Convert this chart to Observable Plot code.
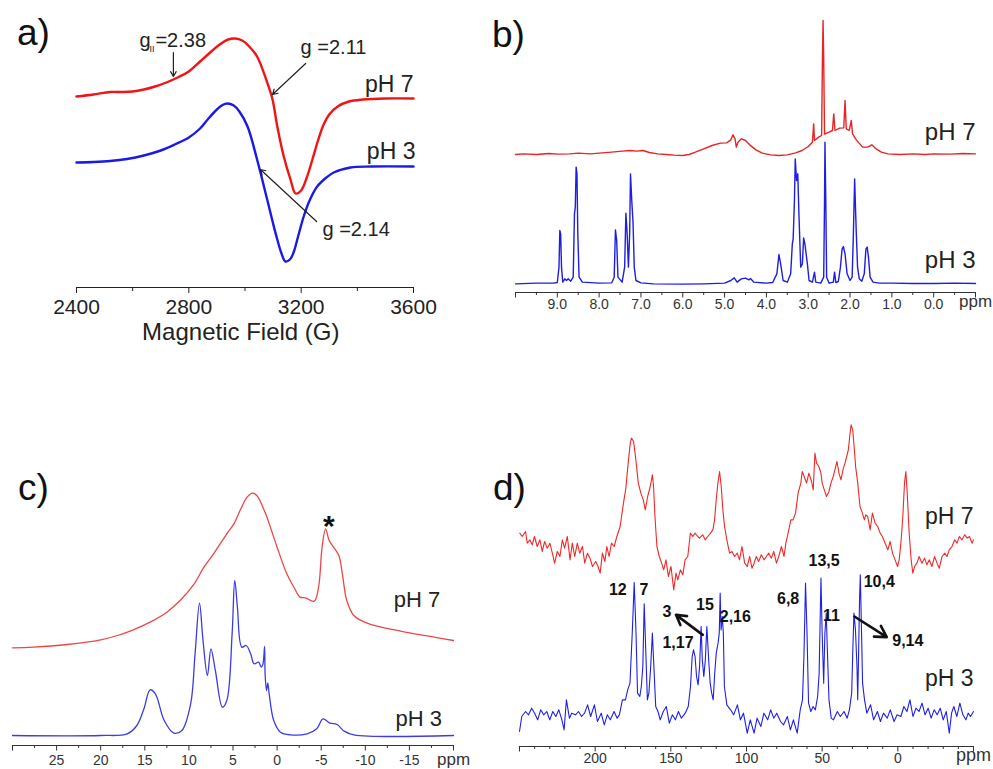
<!DOCTYPE html>
<html><head><meta charset="utf-8">
<script src="https://cdn.jsdelivr.net/npm/d3@7"></script>
<script src="https://cdn.jsdelivr.net/npm/@observablehq/plot@0.6"></script>
<style>
body{margin:0;background:#fff;}
#page{position:relative;width:993px;height:769px;overflow:hidden;font-family:"Liberation Sans",Arial,Helvetica,sans-serif;background:#fff;}
.panel{position:absolute;}
.panel svg{overflow:visible;max-width:none;background:transparent;display:block;}
.tag{position:absolute;font-size:37px;line-height:37px;color:#111;font-family:"Liberation Sans",Arial,sans-serif;}
</style></head><body><div id="page"></div>
<script>
// ---------- Panel a: EPR (field in G, intensity a.u. with offset) ----------
const eprPH7 = [[2400,191],[2460,193],[2520,195.5],[2560,195.5],[2600,196],[2640,198],[2680,201],[2720,205],[2760,210],[2800,216],[2840,226],[2880,236],[2910,243],[2940,248],[2965,249],[2990,247],[3015,241],[3043,231],[3079,205],[3098,188],[3115,161],[3138,131],[3162,108],[3180,94],[3200,97],[3220,110],[3240,128],[3260,147],[3280,163],[3300,173],[3330,181],[3370,186],[3420,188],[3500,189],[3600,189]];
const eprPH3 = [[2400,125],[2460,125.5],[2520,126.5],[2580,128.5],[2640,132],[2700,137],[2750,143],[2800,150],[2840,159],[2870,169],[2900,178],[2920,182.5],[2937,184],[2960,182],[2980,176],[3009,161],[3043,128],[3079,88],[3100,64],[3115,48],[3130,34],[3144,26],[3160,28],[3173,35],[3190,52],[3209,71],[3230,87],[3257,101],[3290,110],[3316,115],[3376,120],[3450,121],[3600,121]];
const aMajor = [2400, 2800, 3200, 3600];
const aMinor = [2600, 3000, 3400];
const aText = [
  {x: 2624, y: 247, t: "g", s: 20, a: "start"},
  {x: 2660, y: 238, t: "II", s: 9, a: "start"},
  {x: 2681, y: 247, t: "=2.38", s: 20, a: "start"},
  {x: 3198, y: 240, t: "g =2.11", s: 20, a: "start"},
  {x: 3276, y: 58, t: "g =2.14", s: 20, a: "start"},
  {x: 3600, y: 203, t: "pH 7", s: 23, a: "end"},
  {x: 3607, y: 136, t: "pH 3", s: 23, a: "end"},
  {x: 2985, y: -45, t: "Magnetic Field (G)", s: 24, a: "middle"}
];
const aArrows = [
  {x1: 2745, y1: 235, x2: 2745, y2: 211},
  {x1: 3216, y1: 224, x2: 3098, y2: 193},
  {x1: 3255, y1: 66, x2: 3055, y2: 118}
];

// ---------- Panel b: 1H NMR (ppm) ----------
const hPH7 = [[10,414],[9.8,416],[9.5,414],[9.2,417],[9.0,415],[8.7,416],[8.5,418],[8.2,416],[8.0,418],[7.7,421],[7.45,424],[7.25,426],[7.1,424],[6.95,426],[6.8,420],[6.6,416],[6.4,414],[6.2,412],[6.0,411],[5.85,414],[5.7,421],[5.5,431],[5.3,441],[5.1,448],[4.95,449],[4.85,458],[4.80,473],[4.75,461],[4.72,436],[4.68,451],[4.6,461],[4.5,456],[4.4,443],[4.25,428],[4.1,418],[3.9,413],[3.7,411],[3.5,413],[3.3,419],[3.15,426],[3.0,438],[2.9,451],[2.87,506],[2.85,456],[2.75,466],[2.68,471],[2.66,700],[2.645,816],[2.63,700],[2.61,475],[2.5,481],[2.42,486],[2.39,536],[2.36,486],[2.25,493],[2.15,494],[2.12,576],[2.09,491],[2.02,486],[1.97,516],[1.94,476],[1.85,458],[1.7,436],[1.58,436],[1.48,443],[1.38,431],[1.25,421],[1.1,416],[0.8,414],[0.5,416],[0.2,414],[0.0,416],[-0.4,415],[-0.7,417],[-1.0,416]];
const hPH3 = [[10,26],[9.5,28],[9.1,28],[9.0,30],[8.96,76],[8.94,186],[8.92,176],[8.90,76],[8.87,31],[8.82,41],[8.78,36],[8.74,41],[8.68,34],[8.62,46],[8.59,236],[8.57,256],[8.55,376],[8.53,356],[8.51,176],[8.48,46],[8.4,31],[8.0,28],[7.7,29],[7.64,46],[7.61,188],[7.58,156],[7.55,46],[7.45,31],[7.39,76],[7.36,238],[7.33,176],[7.30,76],[7.27,176],[7.25,356],[7.22,276],[7.19,211],[7.16,76],[7.12,36],[7.0,29],[6.7,26],[6.0,25],[5.5,26],[5.0,28],[4.85,36],[4.77,44],[4.70,31],[4.6,41],[4.5,43],[4.42,38],[4.38,42],[4.3,31],[4.0,28],[3.85,30],[3.75,56],[3.70,114],[3.66,86],[3.60,36],[3.50,31],[3.42,56],[3.38,146],[3.36,161],[3.33,276],[3.31,401],[3.28,336],[3.25,356],[3.22,226],[3.18,76],[3.14,86],[3.11,164],[3.08,146],[3.05,116],[3.02,86],[2.98,36],[2.9,31],[2.85,61],[2.82,31],[2.7,28],[2.63,46],[2.61,276],[2.60,451],[2.58,276],[2.56,46],[2.5,28],[2.4,31],[2.37,61],[2.34,30],[2.28,33],[2.23,76],[2.19,131],[2.16,138],[2.12,116],[2.07,56],[2.0,36],[1.95,46],[1.92,176],[1.89,341],[1.87,256],[1.85,176],[1.82,76],[1.78,41],[1.72,34],[1.66,56],[1.62,131],[1.59,136],[1.56,106],[1.52,46],[1.45,31],[1.3,28],[1.0,28],[0.5,27],[0.0,27],[-0.5,28],[-1.0,27]];
const bMajor = [10,9,8,7,6,5,4,3,2,1,0,-1];
const bMinor = [9.5,8.5,7.5,6.5,5.5,4.5,3.5,2.5,1.5,0.5,-0.5];
const bText = [
  {x: -1, y: 481, t: "pH 7"},
  {x: -1, y: 96, t: "pH 3"}
];

// ---------- Panel c: solid-state 1H NMR (ppm) ----------
const ssH7 = [[30,293],[27.6,295],[23.8,303],[20,317],[18.1,330],[16.3,347],[14.4,370],[12.5,400],[11,435],[9.4,485],[8.3,535],[7.2,575],[5.7,635],[4.9,665],[4.2,705],[3.4,745],[2.8,757],[2.3,750],[1.3,695],[0.76,655],[0,595],[-1.1,515],[-1.9,475],[-2.6,445],[-3.2,443],[-4.2,433],[-4.7,475],[-5.1,595],[-5.5,650],[-5.9,615],[-6.4,595],[-7.0,570],[-7.4,515],[-7.9,435],[-8.7,390],[-10.2,367],[-14,343],[-17.8,325],[-20,315]];
const ssH3 = [[30,30],[20,30],[17,35],[15.9,60],[15.1,110],[14.4,167],[13.8,155],[12.8,75],[11.7,37],[10.8,45],[9.8,125],[9.3,275],[8.8,427],[8.4,315],[7.9,210],[7.5,290],[7.0,225],[6.2,115],[5.7,135],[5.1,335],[4.8,495],[4.5,415],[4.0,295],[3.5,300],[3.0,275],[2.6,245],[2.1,250],[1.8,235],[1.6,245],[1.42,297],[1.36,215],[1.2,165],[1.06,187],[0.9,155],[0.38,75],[-0.38,40],[-1.5,32],[-3.4,35],[-4.5,50],[-5.2,80],[-6.0,67],[-6.8,63],[-7.6,43],[-8.7,32],[-20,30]];
const cMajor = [30,25,20,15,10,5,0,-5,-10,-15,-20];
const cMinor = [27.5,22.5,17.5,12.5,7.5,2.5,-2.5,-7.5,-12.5,-17.5];
const cText = [
  {x: -18.5, y: 437, t: "pH 7"},
  {x: -18.7, y: 80, t: "pH 3"}
];

// ---------- Panel d: 13C NMR (ppm) ----------
const cPH7 = [[249.8,640],[248.2,630],[246,645],[244.9,610],[243.1,620],[241.6,605],[240.1,630],[238.3,600],[236.5,620],[235,585],[233.4,615],[231.7,595],[229.9,610],[228.3,580],[226.8,550],[225,585],[223.3,570],[221.7,620],[220.2,595],[218.4,630],[216.6,560],[215.1,610],[213.5,570],[211.8,610],[210.2,580],[208.4,600],[206.9,550],[205.1,580],[203.4,565],[201.8,540],[199.6,555],[198.1,540],[196.7,520],[195.2,580],[193.6,555],[192.3,600],[190.8,570],[189.2,610],[187.4,600],[185.7,630],[183.5,660],[181.3,730],[179.7,775],[178.2,850],[176.8,910],[176,925],[174.6,915],[173.1,860],[171.5,790],[169.8,760],[168.2,740],[166.9,710],[165.3,750],[163.6,780],[162.2,815],[161.4,780],[160.5,690],[159.2,600],[157.6,570],[156.1,550],[154.7,530],[153.2,560],[151.6,510],[149.9,540],[148.1,470],[146.6,520],[145.4,500],[143.7,530],[142.1,515],[140.6,560],[138.8,570],[137.1,640],[135.5,630],[134,640],[132.2,630],[131.1,625],[128.9,635],[127.3,620],[125.6,630],[123.8,640],[122.2,650],[121.1,680],[120,740],[118.9,790],[117.8,825],[116.7,780],[115.6,710],[114.5,660],[113,620],[111.2,580],[109.6,585],[107.9,570],[106.1,580],[104.6,560],[103,600],[101.2,550],[99.5,540],[97.9,570],[96.4,535],[95,550],[93.5,570],[92,555],[90.2,575],[88.4,560],[86.9,570],[85.3,580],[83.6,565],[82,585],[80.2,550],[78.7,570],[76.9,600],[75.2,570],[74,610],[72.5,640],[70.7,680],[69.2,680],[67.6,700],[65.9,760],[64.1,790],[63.2,825],[61.9,810],[60.3,790],[58.8,820],[57,795],[55.9,770],[54.8,880],[53.7,850],[52.2,840],[50.8,820],[50,790],[48.6,770],[47.1,750],[45.5,765],[44.2,790],[42.7,810],[41.6,830],[40.2,855],[38.9,820],[37.6,800],[36,835],[34.9,850],[33.8,870],[32.7,890],[31.8,930],[30.9,965],[29.8,950],[28.7,890],[27.9,840],[26.5,790],[25,720],[23.4,700],[22.1,680],[21.2,695],[19.9,690],[18.3,650],[16.8,700],[15,670],[13.3,660],[11.7,640],[10.2,630],[8.4,610],[6.6,590],[5.1,615],[3.5,580],[1.8,560],[0.2,540],[-0.9,560],[-2.2,620],[-3.3,690],[-4.4,790],[-5.3,825],[-6.2,760],[-7.5,640],[-8.8,560],[-9.9,520],[-11.1,540],[-12.6,550],[-14.1,570],[-15.9,550],[-17.7,565],[-19.2,545],[-20.8,560],[-22.5,540],[-24.3,570],[-25.9,550],[-27.4,535],[-29.2,570],[-31,580],[-32.5,570],[-34,590],[-35.8,600],[-37.6,620],[-39.1,610],[-40.7,630],[-42.4,620],[-44.2,635],[-45.8,625],[-47.3,630],[-49.1,610],[-50,620]];
const cPH3 = [[250,45],[248.5,90],[246,105],[244,95],[242,115],[240,100],[238,80],[236,110],[234,95],[232,105],[230,80],[228,105],[226,90],[224,110],[222,80],[220.5,50],[219,140],[217,85],[215.5,100],[213,95],[211,105],[209,90],[207,100],[205,125],[203,90],[200.5,125],[198.5,75],[196,100],[194,65],[192,95],[190,80],[187.5,105],[185.5,85],[184,95],[182,140],[180,140],[178.5,170],[177,190],[175.5,340],[174.2,492],[173,340],[172,160],[170.5,150],[169.5,180],[168.5,240],[167.6,428],[166.5,280],[165.5,140],[164.5,160],[163.3,240],[162.2,340],[161.2,240],[160,120],[158.5,105],[157,80],[155,105],[153,120],[151,70],[149,95],[147,80],[145,105],[143,85],[140.5,100],[138.5,120],[137,180],[135.9,270],[135,290],[134,270],[133,210],[132,185],[131,240],[130,360],[129.2,260],[128.2,210],[127.2,260],[126.2,360],[125,260],[124,190],[123,160],[122,140],[121,220],[120,280],[118.8,310],[118,340],[117.4,460],[116.8,350],[116,390],[115.3,340],[114.6,180],[113,125],[110.5,110],[108.5,95],[106,125],[104,80],[102,100],[99.5,40],[97.5,80],[95,40],[93,85],[90.5,60],[88.5,100],[86,80],[84,110],[82,85],[80,100],[77.5,75],[75.5,65],[73,90],[71,50],[69,80],[66.5,40],[64.5,110],[63,140],[62,280],[61,490],[60,340],[59,130],[57.5,105],[56,120],[54.5,110],[53,150],[52,220],[51.5,340],[50.8,505],[50,340],[49,190],[48.2,340],[47.3,400],[46.5,280],[45.5,140],[44,85],[42.5,80],[40,105],[38,90],[35.5,105],[33.5,85],[32,110],[30.5,160],[29.8,280],[29,400],[28,350],[27,240],[26.5,140],[26,260],[25.3,440],[24.8,515],[24.2,390],[23.3,190],[22,140],[20.5,100],[18,125],[16,80],[13.5,105],[11.5,75],[9.5,100],[7,85],[5,110],[2.5,75],[0.5,95],[-2,90],[-4,120],[-6,105],[-8,140],[-10,90],[-12,115],[-14,105],[-16,130],[-18,95],[-20,115],[-22,85],[-24,110],[-26,95],[-28,115],[-30,80],[-32,105],[-34,40],[-35.5,100],[-37,120],[-39,90],[-41,130],[-43,95],[-45,80],[-46.5,100],[-48,90],[-50,105]];
const dMajor = [250,200,150,100,50,0,-50];
const dMinor = [240,230,220,210,190,180,170,160,140,130,120,110,90,80,70,60,40,30,20,10,-10,-20,-30,-40];
const dPeakLabels = [
  {x: 185, y: 470, t: "12"},
  {x: 167.8, y: 470, t: "7"},
  {x: 152.5, y: 405, t: "3"},
  {x: 127.5, y: 425, t: "15"},
  {x: 145.3, y: 310, t: "1,17"},
  {x: 107.4, y: 390, t: "2,16"},
  {x: 72.5, y: 442, t: "6,8"},
  {x: 48.7, y: 558, t: "13,5"},
  {x: 43.9, y: 392, t: "11"},
  {x: 12.3, y: 495, t: "10,4"},
  {x: -6.6, y: 318, t: "9,14"}
];
const dArrows = [
  {x1: 128.9, y1: 335, x2: 146.6, y2: 395},
  {x1: 28.7, y1: 390, x2: 7.3, y2: 328}
];
const dText = [
  {x: -50, y: 690, t: "pH 7"},
  {x: -50, y: 205, t: "pH 3"}
];
// unit labels at the right end of each ppm axis
const ppmUnit = {b: {x: -1, y: -27}, c: {x: -20, y: -42}, d: {x: -50, y: -27}};

const FONT = "Liberation Sans, Arial, Helvetica, sans-serif";
const baseStyle = {background: "transparent", fontFamily: FONT, overflow: "visible", color: "#222"};
const X = d => d[0], Y = d => d[1];

function axes(major, minor, fmt, size, pad, color, unit, unitSize) {
  return [
    Plot.ruleY([0], {stroke: color, strokeWidth: 1.2}),
    Plot.axisX(minor, {tickSize: 3, tickFormat: () => "", label: null, stroke: color}),
    Plot.axisX(major, {tickSize: 5.5, tickPadding: pad, tickFormat: fmt, fontSize: size, label: null, stroke: color, fill: color}),
    Plot.text([unit], {x: "x", y: "y", text: () => "ppm", fontSize: unitSize, fill: color})
  ];
}

const page = document.getElementById("page");
function place(svg, left, top) {
  const div = document.createElement("div");
  div.className = "panel";
  div.style.left = left + "px";
  div.style.top = top + "px";
  div.appendChild(svg);
  page.appendChild(div);
}
function tag(txt, left, top) {
  const div = document.createElement("div");
  div.className = "tag";
  div.textContent = txt;
  div.style.left = left + "px";
  div.style.top = top + "px";
  page.appendChild(div);
}

// Panel a
place(Plot.plot({
  width: 480, height: 360, marginLeft: 76, marginRight: 67, marginTop: 20, marginBottom: 73,
  x: {domain: [2400, 3600]},
  y: {domain: [0, 267], axis: null},
  style: baseStyle,
  marks: [
    Plot.ruleY([0], {stroke: "#222", strokeWidth: 1.2}),
    Plot.axisX(aMinor, {tickSize: 4, tickFormat: () => "", label: null, stroke: "#222"}),
    Plot.axisX(aMajor, {tickSize: 6, tickPadding: 6, tickFormat: d => String(d), fontSize: 21, label: null, stroke: "#222", fill: "#222"}),
    Plot.line(eprPH7, {x: X, y: Y, stroke: "#f01414", strokeWidth: 2.4, curve: "catmull-rom"}),
    Plot.line(eprPH3, {x: X, y: Y, stroke: "#1a1ae6", strokeWidth: 2.4, curve: "catmull-rom"}),
    Plot.arrow(aArrows, {x1: "x1", y1: "y1", x2: "x2", y2: "y2", stroke: "#222", strokeWidth: 1.2, headLength: 7}),
    Plot.text(aText.filter(d => d.a === "start"), {x: "x", y: "y", text: "t", fontSize: d => d.s, textAnchor: "start", fill: "#222"}),
    Plot.text(aText.filter(d => d.a === "end"), {x: "x", y: "y", text: "t", fontSize: d => d.s, textAnchor: "end", fill: "#222"}),
    Plot.text(aText.filter(d => d.a === "middle"), {x: "x", y: "y", text: "t", fontSize: d => d.s, textAnchor: "middle", fill: "#222"})
  ]
}), 0, 0);

// Panel b
place(Plot.plot({
  width: 513, height: 330, marginLeft: 35, marginRight: 18, marginTop: 10, marginBottom: 38,
  x: {domain: [10, -1]},
  y: {domain: [0, 846], axis: null},
  style: baseStyle,
  marks: [
    ...axes(bMajor, bMinor, d => (d === 10 || d === -1) ? "" : d.toFixed(1), 14, 1, "#333", ppmUnit.b, 17),
    Plot.line(hPH7, {x: X, y: Y, stroke: "#e82424", strokeWidth: 1.4}),
    Plot.line(hPH3, {x: X, y: Y, stroke: "#1e1ee0", strokeWidth: 1.4}),
    Plot.text(bText, {x: "x", y: "y", text: "t", fontSize: 24, textAnchor: "end", fill: "#222"})
  ]
}), 480, 0);

// Panel c
place(Plot.plot({
  width: 480, height: 369, marginLeft: 12, marginRight: 27, marginTop: 10, marginBottom: 24,
  x: {domain: [30, -20]},
  y: {domain: [0, 1005], axis: null},
  style: baseStyle,
  marks: [
    ...axes(cMajor, cMinor, d => (d === 30 || d === -20) ? "" : String(d), 14, 4, "#333", ppmUnit.c, 17),
    Plot.line(ssH7, {x: X, y: Y, stroke: "#ee4646", strokeWidth: 1.3, curve: "catmull-rom"}),
    Plot.line(ssH3, {x: X, y: Y, stroke: "#3c3ce2", strokeWidth: 1.3, curve: "catmull-rom"}),
    Plot.text(cText, {x: "x", y: "y", text: "t", fontSize: 22, textAnchor: "end", fill: "#222"}),
    Plot.text([{x: -5.86, y: 657, t: "*"}], {x: "x", y: "y", text: "t", fontSize: 30, fontWeight: "bold", fill: "#111"})
  ]
}), 0, 400);

// Panel d
place(Plot.plot({
  width: 513, height: 369, marginLeft: 39, marginRight: 20, marginTop: 10, marginBottom: 23,
  x: {domain: [250, -50]},
  y: {domain: [0, 1008], axis: null},
  style: baseStyle,
  marks: [
    ...axes(dMajor, dMinor, d => (d === 250 || d === -50) ? "" : String(d), 14, 1, "#333", ppmUnit.d, 18),
    Plot.line(cPH7, {x: X, y: Y, stroke: "#f02828", strokeWidth: 1.1}),
    Plot.line(cPH3, {x: X, y: Y, stroke: "#1f1fe8", strokeWidth: 1.1}),
    Plot.arrow(dArrows, {x1: "x1", y1: "y1", x2: "x2", y2: "y2", stroke: "#111", strokeWidth: 2.6, headLength: 10}),
    Plot.text(dPeakLabels, {x: "x", y: "y", text: "t", fontSize: 16, fontWeight: "bold", fill: "#111"}),
    Plot.text(dText, {x: "x", y: "y", text: "t", fontSize: 23, textAnchor: "end", fill: "#222"})
  ]
}), 480, 400);

tag("a)", 17, 14);
tag("b)", 492, 16);
tag("c)", 18, 469);
tag("d)", 493, 469);
</script>
</body></html>
